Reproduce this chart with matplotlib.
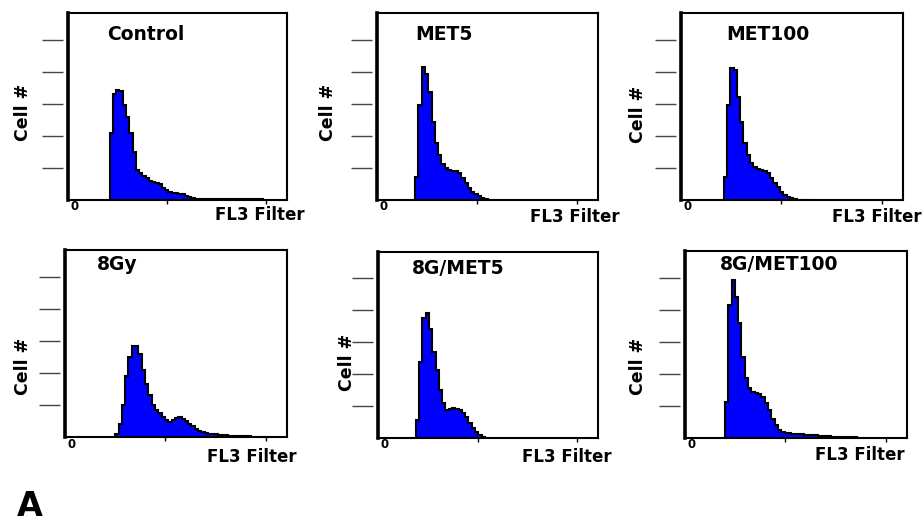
import numpy as np
import matplotlib.pyplot as plt

samples = ['Control', 'MET5', 'MET100', '8Gy', '8G/MET5', '8G/MET100']

# channel where each histogram begins, and channels per bin
first_channel = [42.0, 38.0, 42.4, 50.0, 38.0, 39.7]
bin_width = 3.3

control = [2.1, 3.3, 3.45, 3.4, 2.97, 2.6, 2.1, 1.5, 0.94, 0.84, 0.76, 0.69,
           0.6, 0.56, 0.53, 0.5, 0.37, 0.3, 0.25, 0.23, 0.22, 0.2, 0.19, 0.12,
           0.09, 0.06, 0.04, 0.03, 0.03, 0.03, 0.03, 0.03, 0.03, 0.03, 0.03,
           0.03, 0.03, 0.02, 0.02, 0.02, 0.02, 0.02, 0.02, 0.02, 0.02, 0.02,
           0.02]
met5 = [0.73, 2.97, 4.15, 3.95, 3.39, 2.45, 1.77, 1.41, 1.13, 1.0, 0.95,
        0.92, 0.9, 0.84, 0.68, 0.52, 0.38, 0.26, 0.18, 0.11, 0.05, 0.02, 0.01]
met100 = [0.73, 2.97, 4.14, 4.05, 3.23, 2.45, 1.77, 1.41, 1.15, 1.02, 0.97,
          0.94, 0.9, 0.83, 0.68, 0.52, 0.42, 0.26, 0.16, 0.09, 0.05, 0.02,
          0.01, 0.01, 0.01, 0.01]
gy8 = [0.1, 0.4, 1.0, 1.9, 2.5, 2.84, 2.84, 2.6, 2.1, 1.65, 1.3, 1.0, 0.85,
       0.74, 0.64, 0.52, 0.48, 0.53, 0.59, 0.61, 0.57, 0.5, 0.41, 0.33, 0.24,
       0.18, 0.15, 0.12, 0.1, 0.09, 0.08, 0.07, 0.06, 0.05, 0.04, 0.04, 0.03,
       0.03, 0.02, 0.02, 0.02, 0.01, 0.01]
gy8_met5 = [0.56, 2.39, 3.74, 3.9, 3.4, 2.7, 2.13, 1.5, 1.1, 0.88, 0.9, 0.93,
            0.9, 0.86, 0.78, 0.67, 0.46, 0.3, 0.2, 0.1, 0.04, 0.01]
gy8_met100 = [1.13, 4.16, 4.94, 4.4, 3.58, 2.54, 1.86, 1.55, 1.45, 1.42, 1.38,
              1.29, 1.08, 0.88, 0.6, 0.4, 0.25, 0.2, 0.16, 0.15, 0.14, 0.13,
              0.12, 0.11, 0.1, 0.09, 0.08, 0.08, 0.07, 0.06, 0.05, 0.05, 0.04,
              0.04, 0.03, 0.03, 0.02, 0.02, 0.02, 0.02, 0.01]
counts = [control, met5, met100, gy8, gy8_met5, gy8_met100]

y_ticks = [1, 2, 3, 4, 5]
x_ticks = [100, 200]

# panel boxes in pixels: left, top, right, bottom
boxes = [(68, 13, 287, 200), (377, 13, 598, 200), (681, 13, 903, 200),
         (65, 250, 287, 437), (378, 252, 598, 438), (685, 251, 907, 438)]
title_pos = [(39, 22), (38, 22), (45, 22), (32, 15), (34, 16), (35, 14)]
cell_pos = [(-45, 88), (-49, 88), (-43, 86), (-42, 71), (-31, 76), (-47, 72)]
fl3_pos = [(18, 15), (22, 17), (19, 17), (10, 20), (14, 19), (-2, 17)]

W, H = 924, 525
fig = plt.figure(figsize=(W / 100, H / 100), dpi=100)

for i, name in enumerate(samples):
    l, t, r, b = boxes[i]
    ax = fig.add_axes([l / W, 1 - b / H, (r - l) / W, (b - t) / H])

    vals = counts[i]
    edges = first_channel[i] + bin_width * np.arange(len(vals) + 1)
    ax.stairs(vals, edges, fill=True, facecolor='#0000ff', edgecolor='black',
              linewidth=1.5)

    ax.set_xlim(0, 221)
    ax.set_ylim(0, (b - t) / 32)

    ax.set_xticks(x_ticks)
    ax.tick_params(axis='x', direction='out', length=3, width=1,
                   labelbottom=False)
    ax.set_yticks([])
    ax.hlines(y_ticks, -0.118, -0.023, transform=ax.get_yaxis_transform(),
              clip_on=False, color='#444444', linewidth=1)

    for side in ax.spines.values():
        side.set_linewidth(1.5)
    ax.spines['left'].set_linewidth(2.6)

    ax.annotate(name, xy=(0, 1), xycoords='axes fraction',
                xytext=(title_pos[i][0], -title_pos[i][1]),
                textcoords='offset pixels', ha='left', va='center',
                fontsize=13.5, fontweight='bold')
    ax.annotate('Cell #', xy=(0, 0), xycoords='axes fraction',
                xytext=cell_pos[i], textcoords='offset pixels', rotation=90,
                ha='center', va='center', fontsize=12.5, fontweight='bold')
    ax.annotate('FL3 Filter', xy=(1, 0), xycoords='axes fraction',
                xytext=(fl3_pos[i][0], -fl3_pos[i][1]),
                textcoords='offset pixels', ha='right', va='center',
                fontsize=12, fontweight='bold')
    ax.annotate('0', xy=(0, 0), xycoords='axes fraction', xytext=(7, -7),
                textcoords='offset pixels', ha='center', va='center',
                fontsize=8.5, fontweight='bold')

fig.text(17 / W, 1 - 523 / H, 'A', fontsize=24, fontweight='bold',
         ha='left', va='bottom')

fig.savefig('out.png', dpi=100)
